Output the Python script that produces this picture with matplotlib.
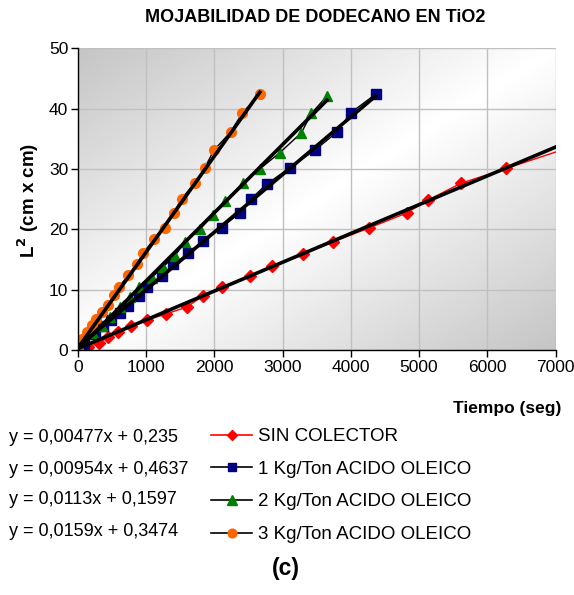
import numpy as np
import matplotlib
matplotlib.use("Agg")
import matplotlib.pyplot as plt
from matplotlib.lines import Line2D

plt.rcParams['font.family'] = ['Liberation Sans', 'DejaVu Sans']

# ---- data ----
sin_x = [0, 146, 307, 439, 586, 776, 1010, 1288, 1596, 1830, 2108, 2518, 2840,
         3294, 3734, 4261, 4817, 5124, 5608, 6281, 7400]
sin_y = [0, 0.5, 1.16, 2.15, 2.98, 3.97, 4.97, 5.96, 7.12, 8.94, 10.43, 12.25, 13.9,
         15.9, 17.9, 20.2, 22.7, 24.8, 27.6, 30.1, 34.3]

k1_x = [0, 90, 250, 370, 480, 615, 736, 893, 1015, 1225, 1395, 1615, 1826, 2104,
        2372, 2533, 2767, 3104, 3470, 3796, 3997, 4363]
k1_y = [0, 1.0, 2.7, 3.9, 5.0, 6.2, 7.3, 8.9, 10.5, 12.3, 14.2, 16.0, 18.0, 20.3,
        22.7, 25.0, 27.5, 30.2, 33.1, 36.1, 39.3, 42.4]

k2_x = [0, 224, 347, 469, 615, 761, 893, 1079, 1249, 1420, 1567, 1786, 1981, 2152,
        2420, 2665, 2958, 3275, 3421, 3650]
k2_y = [0, 2.8, 4.0, 5.5, 7.2, 8.8, 10.4, 12.0, 13.8, 15.6, 17.9, 20.0, 22.4, 24.7,
        27.6, 30.0, 32.7, 36.0, 39.2, 42.1]

k3_x = [0, 5, 54, 127, 200, 264, 347, 444, 527, 605, 737, 859, 956, 1113, 1274,
        1406, 1518, 1713, 1859, 1991, 2236, 2411, 2665]
k3_y = [0, 0.8, 1.9, 3.0, 4.1, 5.2, 6.3, 7.45, 9.1, 10.5, 12.4, 14.2, 16.0, 18.4, 20.3,
        22.7, 25.1, 27.6, 30.2, 33.1, 36.1, 39.3, 42.4]

labels = ["SIN COLECTOR", "1 Kg/Ton ACIDO OLEICO", "2 Kg/Ton ACIDO OLEICO",
          "3 Kg/Ton ACIDO OLEICO"]
slopes = [0.00477, 0.00954, 0.0113, 0.0159]
intercepts = [0.235, 0.4637, 0.1597, 0.3474]
equations = ["y = 0,00477x + 0,235", "y = 0,00954x + 0,4637",
             "y = 0,0113x + 0,1597", "y = 0,0159x + 0,3474"]

x_ticks = [0, 1000, 2000, 3000, 4000, 5000, 6000, 7000]
y_ticks = [0, 10, 20, 30, 40, 50]

# ---- figure ----
fig = plt.figure(figsize=(5.74, 5.95), dpi=100)
ax = fig.add_axes([78/574, 1-350/595, (555.5-78)/574, (350-48.3)/595])

# gradient background
n = 300
u = np.linspace(0, 1, n)
U, V = np.meshgrid(u, u)  # V: 0 at top (imshow origin upper)
t = (U + V) / 2
g0 = 0.77
val = g0 + (1 - g0) * (1 - np.abs(2 * t - 1))
ax.imshow(val, cmap='gray', vmin=0, vmax=1, extent=[0, 1, 0, 1],
          transform=ax.transAxes, aspect='auto', zorder=0, interpolation='bilinear')

ax.set_xlim(0, 7000)
ax.set_ylim(0, 50)
ax.set_xticks(x_ticks)
ax.set_yticks(y_ticks)
ax.grid(True, color='#c0c0c0', linewidth=1.0, zorder=1)
ax.set_axisbelow(True)
for s in ['top', 'right']:
    ax.spines[s].set_visible(False)
for s in ['left', 'bottom']:
    ax.spines[s].set_color('black')
    ax.spines[s].set_linewidth(1.0)
    ax.spines[s].set_zorder(6)
ax.tick_params(axis='both', direction='out', length=5, width=1, labelsize=12.5,
               colors='black', pad=2)

series = [
    (sin_x, sin_y, 'red', 'D', 'red', 6.0),
    (k1_x, k1_y, 'black', 's', '#000080', 6.5),
    (k2_x, k2_y, 'black', '^', '#008000', 7.5),
    (k3_x, k3_y, 'black', 'o', '#FF6600', 7.0),
]

handles = []
for (xs, ys, lc, mk, mc, ms), lab in zip(series, labels):
    ax.plot(xs, ys, color=lc, linewidth=1.0, marker=mk, markersize=ms,
            markerfacecolor=mc, markeredgecolor=mc, zorder=3, clip_on=True)
    handles.append(Line2D([0], [0], color=lc, linewidth=1.2, marker=mk,
                          markersize=ms * 0.9, markerfacecolor=mc,
                          markeredgecolor=mc))

# trendlines
for (xs, ys, *_), m, b in zip(series, slopes, intercepts):
    xx = np.array([0, max(xs)])
    ax.plot(xx, m * xx + b, color='black', linewidth=2.6, zorder=4, clip_on=True)

# texts
fig.text(315/574, 1-18/595, "MOJABILIDAD DE DODECANO EN TiO2", ha='center',
         va='center', fontsize=13, fontweight='bold')
fig.text(28/574, 1-200/595, "L$^{\\mathbf{2}}$ (cm x cm)", ha='center', va='center',
         rotation=90, fontsize=13.5, fontweight='bold')
fig.text(561/574, 1-408/595, "Tiempo (seg)", ha='right', va='center',
         fontsize=12.5, fontweight='bold')
fig.text(286/574, 1-568/595, "(c)", ha='center', va='center', fontsize=16.5,
         fontweight='bold')

rows = [438, 469, 500, 532]
for eq, r in zip(equations, rows):
    fig.text(9/574, 1-r/595, eq, ha='left', va='center', fontsize=13)

leg = fig.legend(handles, labels, loc='upper left',
                 bbox_to_anchor=(211/574, 1-428/595), frameon=False,
                 fontsize=13.5, handlelength=2.2, handletextpad=0.28,
                 labelspacing=0.83, borderaxespad=0, borderpad=0)

fig.savefig("out.png", dpi=100)
